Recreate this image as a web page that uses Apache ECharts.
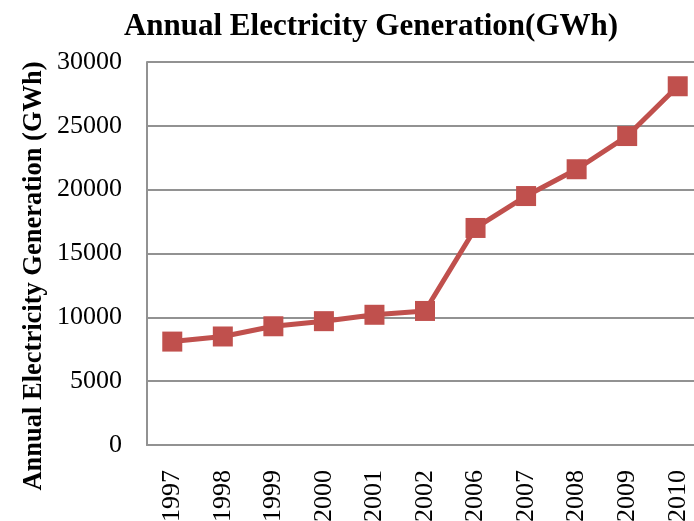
<!DOCTYPE html>
<html>
<head>
<meta charset="utf-8">
<script src="https://cdn.jsdelivr.net/npm/echarts@6/dist/echarts.min.js"></script>
<style>
  html, body { margin: 0; padding: 0; background: #ffffff; }
  #chart { width: 694px; height: 521px; }
</style>
</head>
<body>
<div id="chart"></div>
<script>
// Annual electricity generation, GWh
const years = ['1997', '1998', '1999', '2000', '2001', '2002', '2006', '2007', '2008', '2009', '2010'];
const generation = [8100, 8500, 9300, 9700, 10200, 10500, 17000, 19500, 21600, 24200, 28100];
const yTicks = [0, 5000, 10000, 15000, 20000, 25000, 30000];

const serif = '"Liberation Serif", "Times New Roman", serif';
const lineColor = '#C0504D';
const gridGray = '#929292';

const chart = echarts.init(document.getElementById('chart'), null, { renderer: 'canvas' });

chart.setOption({
  animation: false,
  backgroundColor: '#ffffff',
  title: {
    text: 'Annual Electricity Generation(GWh)',
    left: 366,
    textAlign: 'center',
    top: 6,
    textStyle: { fontFamily: serif, fontWeight: 'bold', fontSize: 31, color: '#000' }
  },
  graphic: [{
    type: 'text',
    x: 34,
    y: 276,
    rotation: Math.PI / 2,
    style: {
      text: 'Annual Electricity Generation (GWh)',
      fontFamily: serif,
      fontWeight: 'bold',
      fontSize: 26.5,
      fill: '#000',
      align: 'center',
      verticalAlign: 'middle'
    }
  }],
  grid: {
    left: 147, top: 62, width: 556, height: 383,
    containLabel: false,
    outerBoundsMode: 'none'
  },
  xAxis: {
    type: 'category',
    data: years,
    boundaryGap: true,
    axisLine: { show: true, lineStyle: { color: gridGray, width: 2 } },
    axisTick: { show: false },
    axisLabel: {
      rotate: 90,
      margin: 25,
      interval: 0,
      fontFamily: serif,
      fontSize: 26,
      color: '#000'
    },
    splitLine: { show: false }
  },
  yAxis: {
    type: 'value',
    min: yTicks[0],
    max: yTicks[yTicks.length - 1],
    interval: yTicks[1] - yTicks[0],
    axisLine: { show: true, lineStyle: { color: gridGray, width: 2 } },
    axisTick: { show: false },
    axisLabel: {
      margin: 25,
      fontFamily: serif,
      fontSize: 26,
      color: '#000',
      formatter: v => String(v)
    },
    splitLine: { show: true, lineStyle: { color: gridGray, width: 2 } }
  },
  series: [{
    type: 'line',
    data: generation,
    symbol: 'rect',
    symbolSize: 20,
    lineStyle: { color: lineColor, width: 5 },
    itemStyle: { color: lineColor },
    z: 3
  }]
});
</script>
</body>
</html>
